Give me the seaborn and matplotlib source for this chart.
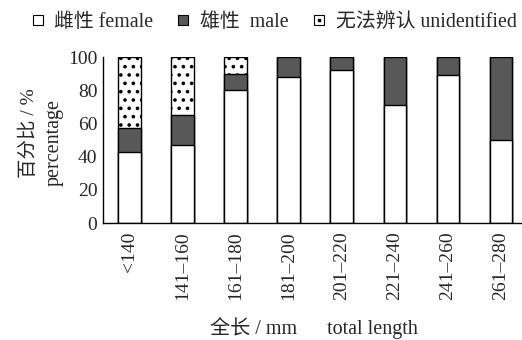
import numpy as np
import pandas as pd
import matplotlib
matplotlib.use("Agg")
import matplotlib.pyplot as plt
from matplotlib.lines import Line2D
from matplotlib.legend_handler import HandlerTuple
from matplotlib.ticker import FixedLocator
import seaborn as sns

categories = ["<140", "141–160", "161–180", "181–200", "201–220", "221–240", "241–260", "261–280"]
female = [43, 47, 80, 88, 92, 71, 89, 50]
male = [14, 18, 10, 12, 8, 29, 11, 50]
unidentified = [43, 35, 10, 0, 0, 0, 0, 0]

sns.set_theme(style="white")
plt.rcParams['font.family'] = ['Liberation Serif', 'Noto Sans CJK SC']
plt.rcParams['hatch.linewidth'] = 1.4
plt.rcParams['hatch.color'] = 'black'

df = pd.DataFrame({
    "cat": categories,
    "female": female,
    "male": male,
    "unid": unidentified,
})
df["fm"] = df["female"] + df["male"]
df["total"] = df["fm"] + df["unid"]

fig = plt.figure(figsize=(5.22, 3.4), dpi=100)
ax = fig.add_axes([0.197, 0.344, 0.803, 0.488])

gray = "#585858"
sns.barplot(data=df, x="cat", y="total", color="white", edgecolor="black",
            linewidth=1.0, width=0.42, hatch="..", saturation=1, ax=ax)
sns.barplot(data=df, x="cat", y="fm", color=gray, edgecolor="black",
            linewidth=1.0, width=0.42, saturation=1, ax=ax)
sns.barplot(data=df, x="cat", y="female", color="white", edgecolor="black",
            linewidth=1.0, width=0.42, saturation=1, ax=ax)

ax.set_xlim(-0.5, 7.4)
ax.set_ylim(0, 100)
ax.set_yticks([0, 20, 40, 60, 80, 100])
ax.set_xticks(range(len(categories)))
ax.set_xticklabels(categories, rotation=90, fontsize=14)
ax.xaxis.set_minor_locator(FixedLocator(np.arange(0.5, len(categories) - 0.5, 1)))
ax.tick_params(axis="x", which="major", length=0, pad=6)
ax.tick_params(axis="x", which="minor", direction="in", length=4, width=1, color="black")
ax.tick_params(axis="y", which="major", direction="in", length=4, width=1, color="black",
               labelsize=14, pad=4)
ax.set_xlabel("")
ax.set_ylabel("")
for s in ["top", "right"]:
    ax.spines[s].set_visible(False)
for s in ["left", "bottom"]:
    ax.spines[s].set_color("black")
    ax.spines[s].set_linewidth(1.0)

fig.text(0.056, 0.609, "百分比 / %", rotation=90, ha="center", va="center", fontsize=14)
fig.text(0.104, 0.582, "percentage", rotation=90, ha="center", va="center", fontsize=14.5)
fig.text(0.602, 0.035, "全长 / mm      total length", ha="center", va="center", fontsize=14.5)

h1 = Line2D([], [], marker="s", linestyle="none", markersize=7, markerfacecolor="white",
            markeredgecolor="black", markeredgewidth=0.8)
h2 = Line2D([], [], marker="s", linestyle="none", markersize=7, markerfacecolor=gray,
            markeredgecolor="black", markeredgewidth=0.8)
h3a = Line2D([], [], marker="s", linestyle="none", markersize=7, markerfacecolor="white",
             markeredgecolor="black", markeredgewidth=0.8)
h3b = Line2D([], [], marker="s", linestyle="none", markersize=1.8, markerfacecolor="black",
             markeredgecolor="black")
fig.legend([h1, h2, (h3a, h3b)], ["雌性 female", "雄性  male", "无法辨认 unidentified"],
           handler_map={tuple: HandlerTuple(ndivide=1, pad=0)},
           loc="upper center", bbox_to_anchor=(0.524, 1.015), ncol=3, frameon=False,
           fontsize=14.3, handlelength=0.7, handletextpad=0.5, columnspacing=1.15)

fig.savefig("out.png", dpi=100)
